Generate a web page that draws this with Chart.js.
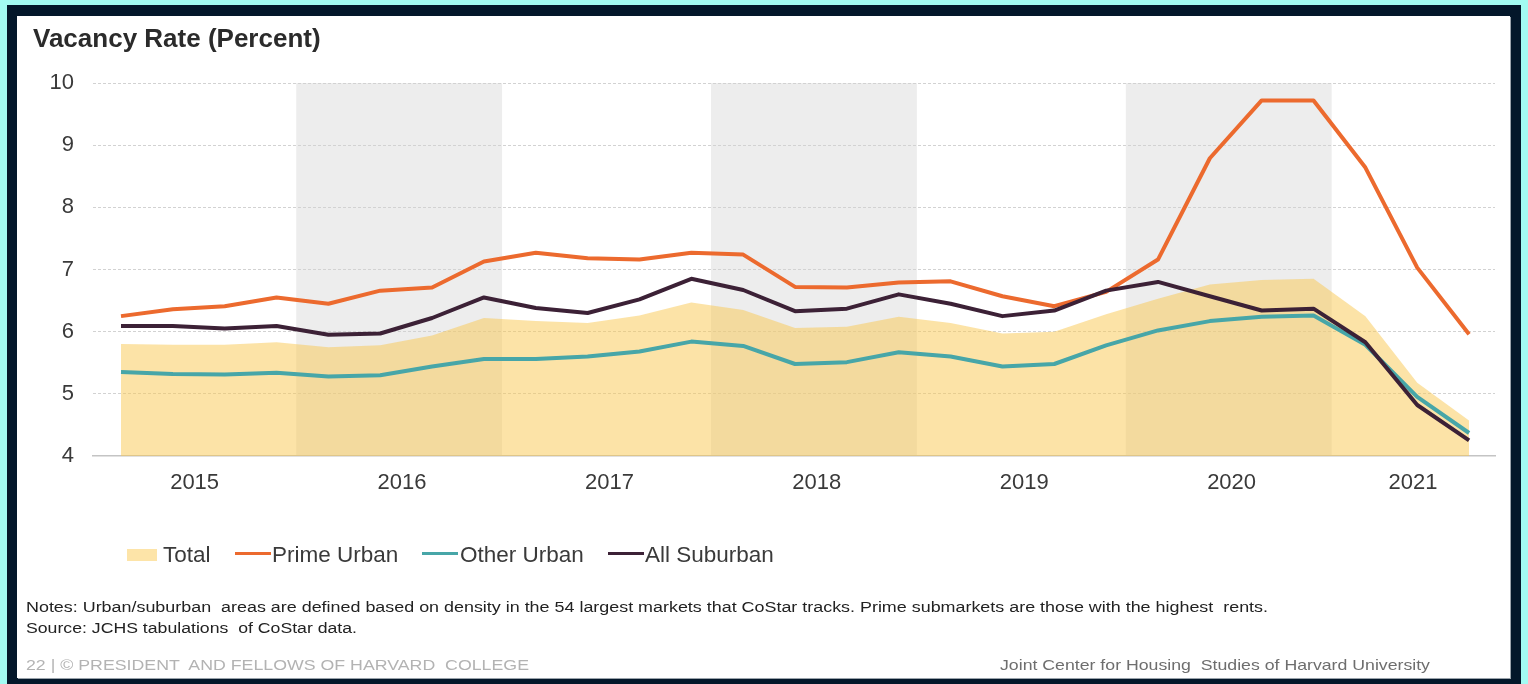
<!DOCTYPE html>
<html>
<head>
<meta charset="utf-8">
<script src="https://cdn.jsdelivr.net/npm/chart.js@4.4.1/dist/chart.umd.min.js"></script>
<style>
  html, body { margin: 0; padding: 0; }
  body {
    width: 1528px; height: 684px; position: relative; overflow: hidden;
    background: #a2fbf2; font-family: "Liberation Sans", Arial, sans-serif;
  }
  .frame { position: absolute; left: 7px; top: 5px; width: 1514px; height: 679px; background: #03172a; }
  .inner { position: absolute; left: 17px; top: 16px; width: 1493px; height: 662px; background: #fff; box-shadow: 1px 1px 0 #9aa3ab; }
  #chart { position: absolute; left: 0; top: 0; }
  .t { position: absolute; white-space: pre; line-height: 1; transform-origin: 0 0; }
  .title { left: 33px; top: 25px; font-size: 26px; font-weight: bold; color: #2b2b2b; }
  .leg { top: 544px; font-size: 22.5px; color: #3a3a3a; }
  .mark { position: absolute; }
  .note { left: 26px; font-size: 15.5px; color: #222; }
  .foot { top: 658px; font-size: 14.5px; }
</style>
</head>
<body>
<div class="frame"></div>
<div class="inner"></div>
<canvas id="chart" width="1528" height="684"></canvas>

<div class="t title">Vacancy Rate (Percent)</div>

<div class="mark" style="left:127px;top:549px;width:30px;height:12px;background:#fde4a8"></div>
<div class="t leg" style="left:163px">Total</div>
<div class="mark" style="left:235px;top:552px;width:36px;height:3px;background:#ec6a2e"></div>
<div class="t leg" style="left:272px">Prime Urban</div>
<div class="mark" style="left:422px;top:552px;width:36px;height:3px;background:#47a6a8"></div>
<div class="t leg" style="left:460px">Other Urban</div>
<div class="mark" style="left:608px;top:552px;width:36px;height:3px;background:#3c2136"></div>
<div class="t leg" style="left:645px">All Suburban</div>

<div class="t note fit" data-w="1242" style="top:599px">Notes: Urban/suburban  areas are defined based on density in the 54 largest markets that CoStar tracks. Prime submarkets are those with the highest  rents.</div>
<div class="t note fit" data-w="331" style="top:620px">Source: JCHS tabulations  of CoStar data.</div>
<div class="t foot fit" data-w="503" style="left:26px;color:#b3b3b3">22 | © PRESIDENT  AND FELLOWS OF HARVARD  COLLEGE</div>
<div class="t foot fit" data-w="430" style="left:1000px;color:#6e6e6e">Joint Center for Housing  Studies of Harvard University</div>

<script>
// Quarterly observations, 2015 Q1 - 2021 Q3
const quarterLabels = [
  "2015 Q1", "2015 Q2", "2015 Q3", "2015 Q4",
  "2016 Q1", "2016 Q2", "2016 Q3", "2016 Q4",
  "2017 Q1", "2017 Q2", "2017 Q3", "2017 Q4",
  "2018 Q1", "2018 Q2", "2018 Q3", "2018 Q4",
  "2019 Q1", "2019 Q2", "2019 Q3", "2019 Q4",
  "2020 Q1", "2020 Q2", "2020 Q3", "2020 Q4",
  "2021 Q1", "2021 Q2", "2021 Q3"
];
const yearLabels = ["2015", "2016", "2017", "2018", "2019", "2020", "2021"];
const shadedYears = ["2016", "2018", "2020"];
const yTickValues = [4, 5, 6, 7, 8, 9, 10];

const totalRate = [5.80, 5.79, 5.79, 5.83, 5.75, 5.78, 5.94, 6.22, 6.17, 6.14, 6.26, 6.47, 6.35, 6.06,
  6.08, 6.24, 6.14, 5.97, 6.00, 6.28, 6.53, 6.76, 6.83, 6.85, 6.25, 5.18, 4.57];
const primeUrban = [6.25, 6.36, 6.41, 6.55, 6.45, 6.66, 6.71, 7.13, 7.27, 7.18, 7.16, 7.27, 7.24, 6.72,
  6.71, 6.79, 6.81, 6.57, 6.41, 6.64, 7.16, 8.79, 9.72, 9.72, 8.64, 7.03, 5.96];
const otherUrban = [5.35, 5.32, 5.31, 5.34, 5.28, 5.30, 5.44, 5.56, 5.56, 5.60, 5.68, 5.84, 5.77, 5.48,
  5.51, 5.67, 5.60, 5.44, 5.48, 5.78, 6.02, 6.17, 6.24, 6.26, 5.79, 4.95, 4.37];
const allSuburban = [6.09, 6.09, 6.05, 6.09, 5.95, 5.97, 6.22, 6.55, 6.38, 6.30, 6.52, 6.85, 6.67, 6.33,
  6.37, 6.60, 6.45, 6.25, 6.34, 6.66, 6.80, 6.57, 6.34, 6.37, 5.83, 4.82, 4.25];

const FONT = "'Liberation Sans', Arial, sans-serif";

// quarter indices belonging to a year
function yearIndices(yr) {
  const out = [];
  quarterLabels.forEach((q, i) => { if (q.startsWith(yr)) out.push(i); });
  return out;
}
function yearCenter(yr) {
  const idx = yearIndices(yr);
  return idx.reduce((a, b) => a + b, 0) / idx.length - 0.08;
}
function toPoints(arr) {
  return arr.map((v, i) => ({ x: i, y: v }));
}

// grey background bands for alternate years (drawn under the grid)
const yearBands = {
  id: "yearBands",
  beforeDraw(chart) {
    const { ctx, chartArea, scales } = chart;
    const x = scales.x;
    ctx.save();
    ctx.fillStyle = "#ededed";
    shadedYears.forEach((yr) => {
      const idx = yearIndices(yr);
      const x0 = x.getPixelForValue(idx[0] - 0.62);
      const x1 = x.getPixelForValue(idx[idx.length - 1] + 0.35);
      ctx.fillRect(x0, chartArea.top, x1 - x0, chartArea.bottom - chartArea.top);
    });
    ctx.restore();
  }
};

function lineSet(label, data, color, order) {
  return {
    label: label,
    data: toPoints(data),
    borderColor: color,
    borderWidth: 4,
    pointRadius: 0,
    tension: 0,
    fill: false,
    borderJoinStyle: "round",
    order: order
  };
}

new Chart(document.getElementById("chart"), {
  type: "line",
  data: {
    datasets: [
      lineSet("All Suburban", allSuburban, "#3c2136", 1),
      lineSet("Prime Urban", primeUrban, "#ec6a2e", 2),
      lineSet("Other Urban", otherUrban, "#47a6a8", 3),
      {
        label: "Total",
        data: toPoints(totalRate),
        borderWidth: 0,
        borderColor: "rgba(0,0,0,0)",
        backgroundColor: "rgba(250,200,80,0.5)",
        pointRadius: 0,
        tension: 0,
        fill: "start",
        order: 4
      }
    ]
  },
  options: {
    responsive: false,
    animation: false,
    layout: { padding: { left: 0, right: 33, top: 83, bottom: 188 } },
    plugins: {
      legend: { display: false },
      tooltip: { enabled: false }
    },
    scales: {
      x: {
        type: "linear",
        min: -0.54,
        max: 26.5,
        afterFit: (s) => { s.height = 40; },
        afterBuildTicks: (s) => {
          s.ticks = yearLabels.map((yr) => ({ value: yearCenter(yr) }));
        },
        ticks: {
          autoSkip: false,
          maxRotation: 0,
          padding: 14,
          color: "#3a3a3a",
          font: { family: FONT, size: 22 },
          callback: (v, i) => yearLabels[i]
        },
        grid: { display: false, drawTicks: false },
        border: { display: true, color: "#c4c4c4", width: 1.5 }
      },
      y: {
        min: 4,
        max: 10,
        afterFit: (s) => { s.width = 93; },
        afterBuildTicks: (s) => {
          s.ticks = yTickValues.map((v) => ({ value: v }));
        },
        ticks: {
          padding: 19,
          color: "#3a3a3a",
          font: { family: FONT, size: 22 }
        },
        grid: {
          drawTicks: false,
          lineWidth: 1,
          color: (c) => (c.tick && c.tick.value === 4 ? "rgba(0,0,0,0)" : "#d2d2d2")
        },
        border: { display: false, dash: [3, 2] }
      }
    }
  },
  plugins: [yearBands]
});

// stretch the small print to the widths used in the original layout
document.querySelectorAll(".fit").forEach((el) => {
  const target = parseFloat(el.dataset.w);
  const w = el.getBoundingClientRect().width;
  if (w > 0) el.style.transform = "scaleX(" + (target / w).toFixed(4) + ")";
});
</script>
</body>
</html>
